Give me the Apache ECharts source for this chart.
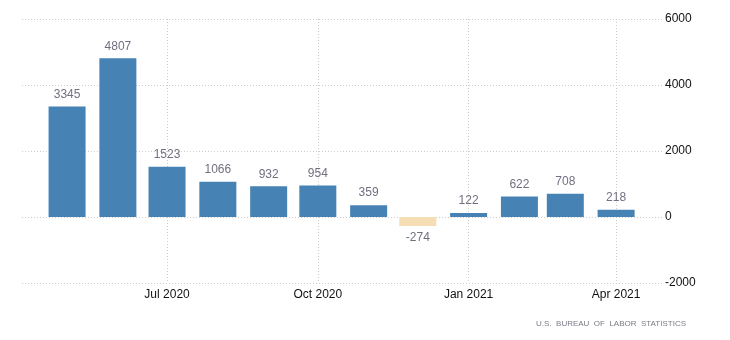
<!DOCTYPE html>
<html>
<head>
<meta charset="utf-8">
<script src="https://cdn.jsdelivr.net/npm/echarts@6/dist/echarts.min.js"></script>
<style>
  html, body { margin: 0; padding: 0; background: #fff; }
  #chart { width: 730px; height: 340px; }
</style>
</head>
<body>
<div id="chart"></div>
<script>
// Monthly change, thousands
const months = ['2020-05-01', '2020-06-01', '2020-07-01', '2020-08-01', '2020-09-01', '2020-10-01',
                '2020-11-01', '2020-12-01', '2021-01-01', '2021-02-01', '2021-03-01', '2021-04-01'];
const values = [3345, 4807, 1523, 1066, 932, 954, 359, -274, 122, 622, 708, 218];
const yTicks = [-2000, 0, 2000, 4000, 6000];
const monthNames = ['Jan', 'Feb', 'Mar', 'Apr', 'May', 'Jun', 'Jul', 'Aug', 'Sep', 'Oct', 'Nov', 'Dec'];
const sourceText = 'U.S.  BUREAU  OF  LABOR  STATISTICS';

const POS = '#4682B4';
const NEG = '#F5DEB3';
const FONT = 'Liberation Sans';

const GRID = { left: 22, right: 68, top: 19, bottom: 57 };
const BAR_W = 37;
const plotW = 730 - GRID.left - GRID.right;

// Visible time window; ECharts widens a bar's base axis by one bar width,
// so pass a window narrowed by that amount and let it grow back.
const viewMin = new Date(2020, 3, 3, 12).getTime();
const viewMax = new Date(2021, 3, 29).getTime();
const span = viewMax - viewMin;
const pad = span * (BAR_W / 2) / plotW;

const chart = echarts.init(document.getElementById('chart'), null, { renderer: 'canvas' });

const seriesData = months.map((m, i) => ({
  value: [m, values[i]],
  itemStyle: { color: values[i] < 0 ? NEG : POS },
  label: { position: values[i] < 0 ? 'bottom' : 'top' }
}));

chart.setOption({
  animation: false,
  backgroundColor: '#fff',
  grid: Object.assign({ containLabel: false }, GRID),
  xAxis: {
    type: 'time',
    min: viewMin + pad,
    max: viewMax - pad,
    splitNumber: 4,
    axisLine: { show: false },
    axisTick: { show: true, length: 4, lineStyle: { color: '#ccc', type: [1, 2] } },
    minorTick: { show: false },
    splitLine: { show: true, showMinLine: false, showMaxLine: false, lineStyle: { color: '#ccc', type: [1, 2] } },
    axisLabel: {
      color: '#111',
      fontFamily: FONT,
      fontSize: 12,
      margin: 6,
      hideOverlap: false,
      showMinLabel: false,
      showMaxLabel: false,
      formatter: function (v) {
        const d = new Date(v);
        return monthNames[d.getMonth()] + ' ' + d.getFullYear();
      }
    }
  },
  yAxis: {
    type: 'value',
    position: 'right',
    min: yTicks[0],
    max: yTicks[yTicks.length - 1],
    interval: 2000,
    axisLine: { show: false },
    axisTick: { show: false },
    splitLine: { show: true, lineStyle: { color: '#ccc', type: [1, 2] } },
    axisLabel: { color: '#111', fontFamily: FONT, fontSize: 12, margin: 3, formatter: v => String(v) }
  },
  series: [{
    type: 'bar',
    barWidth: BAR_W,
    data: seriesData,
    label: {
      show: true,
      distance: 6,
      color: '#707080',
      fontFamily: FONT,
      fontSize: 12,
      formatter: p => p.value[1]
    }
  }],
  graphic: [{
    type: 'text',
    right: 44,
    top: 320,
    style: {
      text: sourceText,
      fill: '#7a7a85',
      font: '8px "Liberation Sans"'
    }
  }]
});
</script>
</body>
</html>
